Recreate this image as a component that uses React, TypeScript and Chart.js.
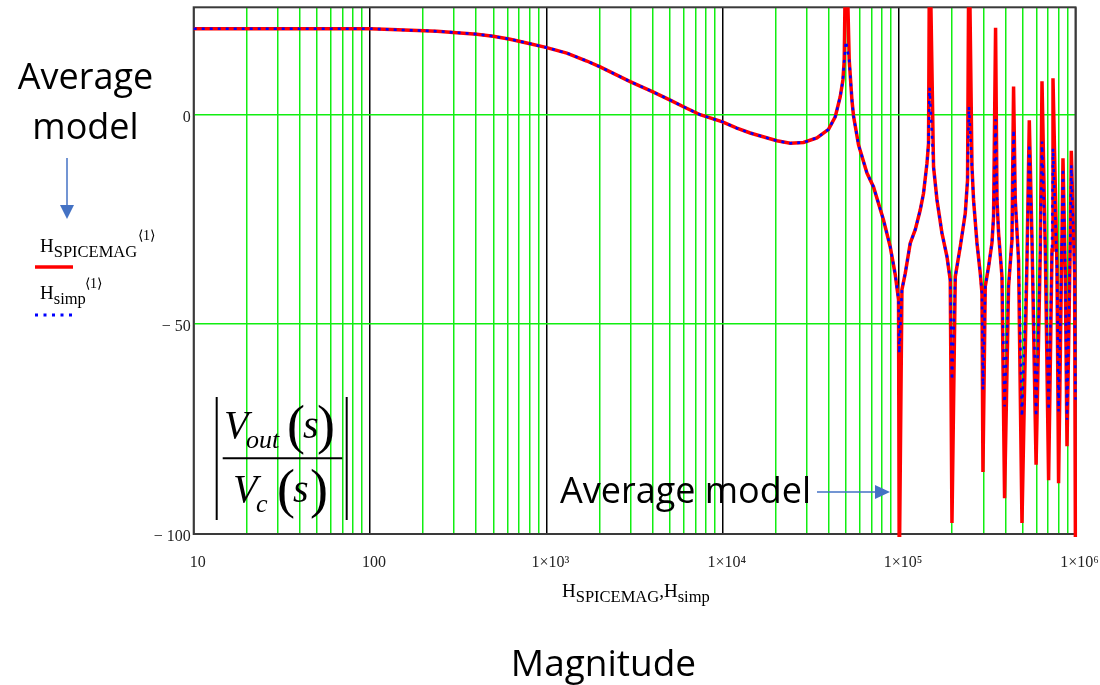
import React, { useEffect, useRef } from 'react';
import { Chart, registerables } from 'chart.js';

Chart.register(...registerables);

// ---------- data ----------
const freqHz = [
  10, 50, 100, 132, 239, 324, 403, 499, 623, 774, 992, 1305, 1695, 2016, 2983, 4045, 5030, 5986, 7444, 9962,
  12020, 14300, 20270, 24120, 28690, 34180, 39770, 43410, 46340, 48000, 48830, 49920, 52120, 53990, 55130,
  58850, 65690, 71580, 81550, 89020, 95040, 99220, 100140, 103700, 108300, 115600, 123400, 131700, 137500,
  143800, 146800, 148800, 156700, 163900, 174900, 186700, 194900, 199300, 208100, 222200, 237100, 244300,
  248800, 258800, 264200, 276300, 288400, 294900, 298700, 307800, 321500, 336000, 343100, 352200, 358800,
  366300, 382900, 396100, 417400, 436300, 445500, 455400, 475500, 497100, 530800, 547000, 566600, 597700,
  631600, 645700, 674200, 703900, 735800, 745400, 785200, 801800, 838300, 849300, 875200, 894900, 934300,
  946600, 988300, 1000000,
];

const simpMagDb = [
  20.4, 20.4, 20.4, 20.2, 19.8, 19.4, 19.1, 18.6, 17.9, 17.0, 15.95, 14.6, 12.7, 11.3, 7.8, 5.3, 3.4, 1.8, -0.1, -1.8,
  -3.3, -4.45, -6.3, -6.9, -6.7, -5.6, -3.6, -0.6, 4.2, 8.2, 12.9, 17.4, 12.9, 3.4, -0.4,
  -7.3, -14, -17.3, -25.2, -31.6, -38.2, -44.2, -56.9, -41.8, -37.9, -30.7, -27.5, -22.8, -18.8,
  -11.7, -6.9, 6.3, -12.5, -20.4, -28.3, -33.9, -39.5, -63.3, -38.7, -31.5, -23.6, -15.6,
  1.8, -12.5, -20.4, -30.7, -37.9, -42.6, -65.6, -41, -36.3, -30.6, -24.4, -1.2, -20.4,
  -28.3, -38.7, -69.6, -41, -29.9, -3.7, -20.4, -34.7, -72, -34.7, -7.1, -29.9, -72,
  -32.3, -6.5, -32.3, -70.5, -32.3, -8.1, -36.3, -70.8, -28.3, -12.9, -37.9, -72.8, -29.9,
  -12.1, -37.9, -68,
];

const spiceMagDb = [
  20.4, 20.4, 20.4, 20.2, 19.8, 19.4, 19.1, 18.6, 17.9, 17.0, 15.95, 14.6, 12.7, 11.3, 7.8, 5.3, 3.4, 1.8, -0.1, -1.8,
  -3.3, -4.45, -6.3, -6.9, -6.7, -5.6, -3.6, -0.6, 4.2, 8.2, 12.9, 45, 12.9, 3.4, -0.4,
  -7.3, -14, -17.3, -25.2, -31.6, -38.2, -44.2, -110, -41.8, -37.9, -30.7, -27.5, -22.8, -18.8,
  -11.7, -6.9, 45, -12.5, -20.4, -28.3, -33.9, -39.5, -97.4, -38.7, -31.5, -23.6, -15.6,
  45, -12.5, -20.4, -30.7, -37.9, -42.6, -85.2, -41, -36.3, -30.6, -24.4, 20.6, -20.4,
  -28.3, -38.7, -91.5, -41, -29.9, 6.6, -20.4, -34.7, -97.4, -34.7, -1.4, -29.9, -83.5,
  -32.3, 7.9, -32.3, -87.2, -32.3, 8.6, -36.3, -87.9, -28.3, -10.5, -37.9, -79.1, -29.9,
  -8.7, -37.9, -110,
];

const xTickValues = [10, 100, 1000, 10000, 100000, 1000000];
const xTickLabels = ['10', '100', '1×10³', '1×10⁴', '1×10⁵', '1×10⁶'];
const xGridMultipliers = [1, 2, 3, 4, 5, 6, 7, 8, 9];
const yTickValues = [-100, -50, 0];
const yTickLabels = ['\u2212 100', '\u2212 50', '0'];

// ---------- style ----------
const GRID_GREEN = '#11ee11';
const serif = "'Liberation Serif', 'Times New Roman', serif";
const sans = "'Open Sans', sans-serif";
const arrowBlue = '#4472c4';

const xGridValues: number[] = [];
xTickValues.forEach((d) => {
  xGridMultipliers.forEach((m) => {
    const v = d * m;
    if (v <= 1000000) xGridValues.push(v);
  });
});

const framePlugin = {
  id: 'frame',
  beforeDatasetsDraw(chart: any) {
    const { ctx, chartArea: a } = chart;
    ctx.save();
    ctx.strokeStyle = '#3a3a3a';
    ctx.lineWidth = 2;
    ctx.strokeRect(a.left, a.top, a.right - a.left, a.bottom - a.top);
    ctx.restore();
  },
};

function MagnitudeChart() {
  const ref = useRef<HTMLCanvasElement | null>(null);
  useEffect(() => {
    if (!ref.current) return;
    const clip = { left: 2, top: 0, right: 2, bottom: 3 };
    const chart = new Chart(ref.current, {
      type: 'line',
      data: {
        datasets: [
          {
            label: 'Hsimp',
            data: freqHz.map((f, i) => ({ x: f, y: simpMagDb[i] })),
            borderColor: '#0000ff',
            borderWidth: 2.6,
            borderDash: [3, 5],
            pointRadius: 0,
            tension: 0,
            order: 1,
            clip,
          },
          {
            label: 'HSPICEMAG',
            data: freqHz.map((f, i) => ({ x: f, y: spiceMagDb[i] })),
            borderColor: '#ff0000',
            borderWidth: 3.5,
            pointRadius: 0,
            tension: 0,
            order: 2,
            clip,
          },
        ],
      },
      options: {
        responsive: false,
        animation: false,
        devicePixelRatio: 1,
        layout: { padding: { left: 0, top: 7.3, right: 24.5, bottom: 0 } },
        plugins: { legend: { display: false }, tooltip: { enabled: false } },
        events: [],
        scales: {
          x: {
            type: 'logarithmic',
            min: 10,
            max: 1000000,
            afterBuildTicks: (s: any) => {
              s.ticks = xGridValues.map((v) => ({ value: v }));
            },
            afterFit: (s: any) => {
              s.height = 151;
              s.paddingLeft = 0;
              s.paddingRight = 0;
            },
            border: { display: false },
            grid: {
              drawTicks: false,
              color: (c: any) => (c.tick && xTickValues.includes(c.tick.value) ? '#000000' : GRID_GREEN),
              lineWidth: 1.5,
            },
            ticks: {
              autoSkip: false,
              maxRotation: 0,
              minRotation: 0,
              padding: 19,
              labelOffset: 4,
              color: '#222',
              font: { family: serif, size: 16 },
              callback: (v: any) => {
                const i = xTickValues.indexOf(Number(v));
                return i >= 0 ? xTickLabels[i] : '';
              },
            },
          },
          y: {
            type: 'linear',
            min: -100,
            max: 25.5,
            afterBuildTicks: (s: any) => {
              s.ticks = yTickValues.map((v) => ({ value: v }));
            },
            afterFit: (s: any) => {
              s.width = 193.7;
              s.paddingTop = 0;
              s.paddingBottom = 0;
            },
            border: { display: false },
            grid: {
              drawTicks: false,
              color: (c: any) => (c.tick && c.tick.value === -100 ? 'rgba(0,0,0,0)' : GRID_GREEN),
              lineWidth: 1.5,
            },
            ticks: {
              padding: 3,
              labelOffset: 3,
              color: '#222',
              font: { family: serif, size: 16 },
              callback: (v: any) => {
                const i = yTickValues.indexOf(Number(v));
                return i >= 0 ? yTickLabels[i] : '';
              },
            },
          },
        },
      } as any,
      plugins: [framePlugin],
    });
    return () => chart.destroy();
  }, []);
  return <canvas ref={ref} width={1100} height={685} style={{ display: 'block' }} />;
}

function Overlay() {
  return (
    <svg
      width={1100}
      height={685}
      style={{ position: 'absolute', left: 0, top: 0, pointerEvents: 'none' }}
    >
      {/* upper-left annotation */}
      <text x={85.5} y={89} textAnchor="middle" fontFamily={sans} fontSize={36} fill="#000">Average</text>
      <text x={85.5} y={139} textAnchor="middle" fontFamily={sans} fontSize={36} fill="#000">model</text>
      <line x1={67} y1={158} x2={67} y2={206} stroke={arrowBlue} strokeWidth={1.5} />
      <polygon points="60,205 74,205 67,219" fill={arrowBlue} />

      {/* legend */}
      <text x={40} y={252} fontFamily={serif} fontSize={19} fill="#000">
        H<tspan dy={5} fontSize={16.5}>SPICEMAG</tspan>
      </text>
      <text x={138} y={240} fontFamily={serif} fontSize={14} fill="#000">⟨1⟩</text>
      <line x1={35} y1={267} x2={73} y2={267} stroke="#ff0000" strokeWidth={3.5} />
      <text x={40} y={299} fontFamily={serif} fontSize={19} fill="#000">
        H<tspan dy={5} fontSize={16.5}>simp</tspan>
      </text>
      <text x={85} y={288} fontFamily={serif} fontSize={14} fill="#000">⟨1⟩</text>
      <line x1={35} y1={315} x2={73} y2={315} stroke="#0000ff" strokeWidth={3} strokeDasharray="3 5.5" />

      {/* transfer function |Vout(s)/Vc(s)| */}
      <line x1={216.7} y1={397} x2={216.7} y2={520} stroke="#000" strokeWidth={2} />
      <line x1={346.7} y1={397} x2={346.7} y2={520} stroke="#000" strokeWidth={2} />
      <line x1={222.7} y1={458.3} x2={342.3} y2={458.3} stroke="#000" strokeWidth={2} />
      <text x={224} y={438} fontFamily={serif} fontStyle="italic" fontSize={40} fill="#000">V</text>
      <text x={246} y={448} fontFamily={serif} fontStyle="italic" fontSize={26} fill="#000">out</text>
      <text x={287} y={443} fontFamily={serif} fontSize={54} fill="#000">(</text>
      <text x={303} y={438} fontFamily={serif} fontStyle="italic" fontSize={40} fill="#000">s</text>
      <text x={317} y={443} fontFamily={serif} fontSize={54} fill="#000">)</text>
      <text x={233} y={501.7} fontFamily={serif} fontStyle="italic" fontSize={40} fill="#000">V</text>
      <text x={256} y={511.7} fontFamily={serif} fontStyle="italic" fontSize={26} fill="#000">c</text>
      <text x={277} y={507} fontFamily={serif} fontSize={54} fill="#000">(</text>
      <text x={293} y={501.7} fontFamily={serif} fontStyle="italic" fontSize={40} fill="#000">s</text>
      <text x={310} y={507} fontFamily={serif} fontSize={54} fill="#000">)</text>

      {/* in-plot annotation */}
      <text x={560} y={503} fontFamily={sans} fontSize={36} fill="#000">Average model</text>
      <line x1={817} y1={492} x2={877} y2={492} stroke={arrowBlue} strokeWidth={1.5} />
      <polygon points="875,485 890,492 875,499" fill={arrowBlue} />

      {/* x-axis title */}
      <text x={562} y={597} fontFamily={serif} fontSize={19} fill="#000">
        H<tspan dy={5} fontSize={16.5}>SPICEMAG</tspan>
        <tspan dy={-5} fontSize={19}>,</tspan>
        <tspan>H</tspan>
        <tspan dy={5} fontSize={16.5}>simp</tspan>
      </text>

      {/* bottom caption */}
      <text x={603.5} y={676} textAnchor="middle" fontFamily={sans} fontSize={37} fill="#000">Magnitude</text>
    </svg>
  );
}

export default function App() {
  return (
    <div style={{ position: 'absolute', left: 0, top: 0, width: 1100, height: 685, background: '#fff' }}>
      <MagnitudeChart />
      <Overlay />
    </div>
  );
}
